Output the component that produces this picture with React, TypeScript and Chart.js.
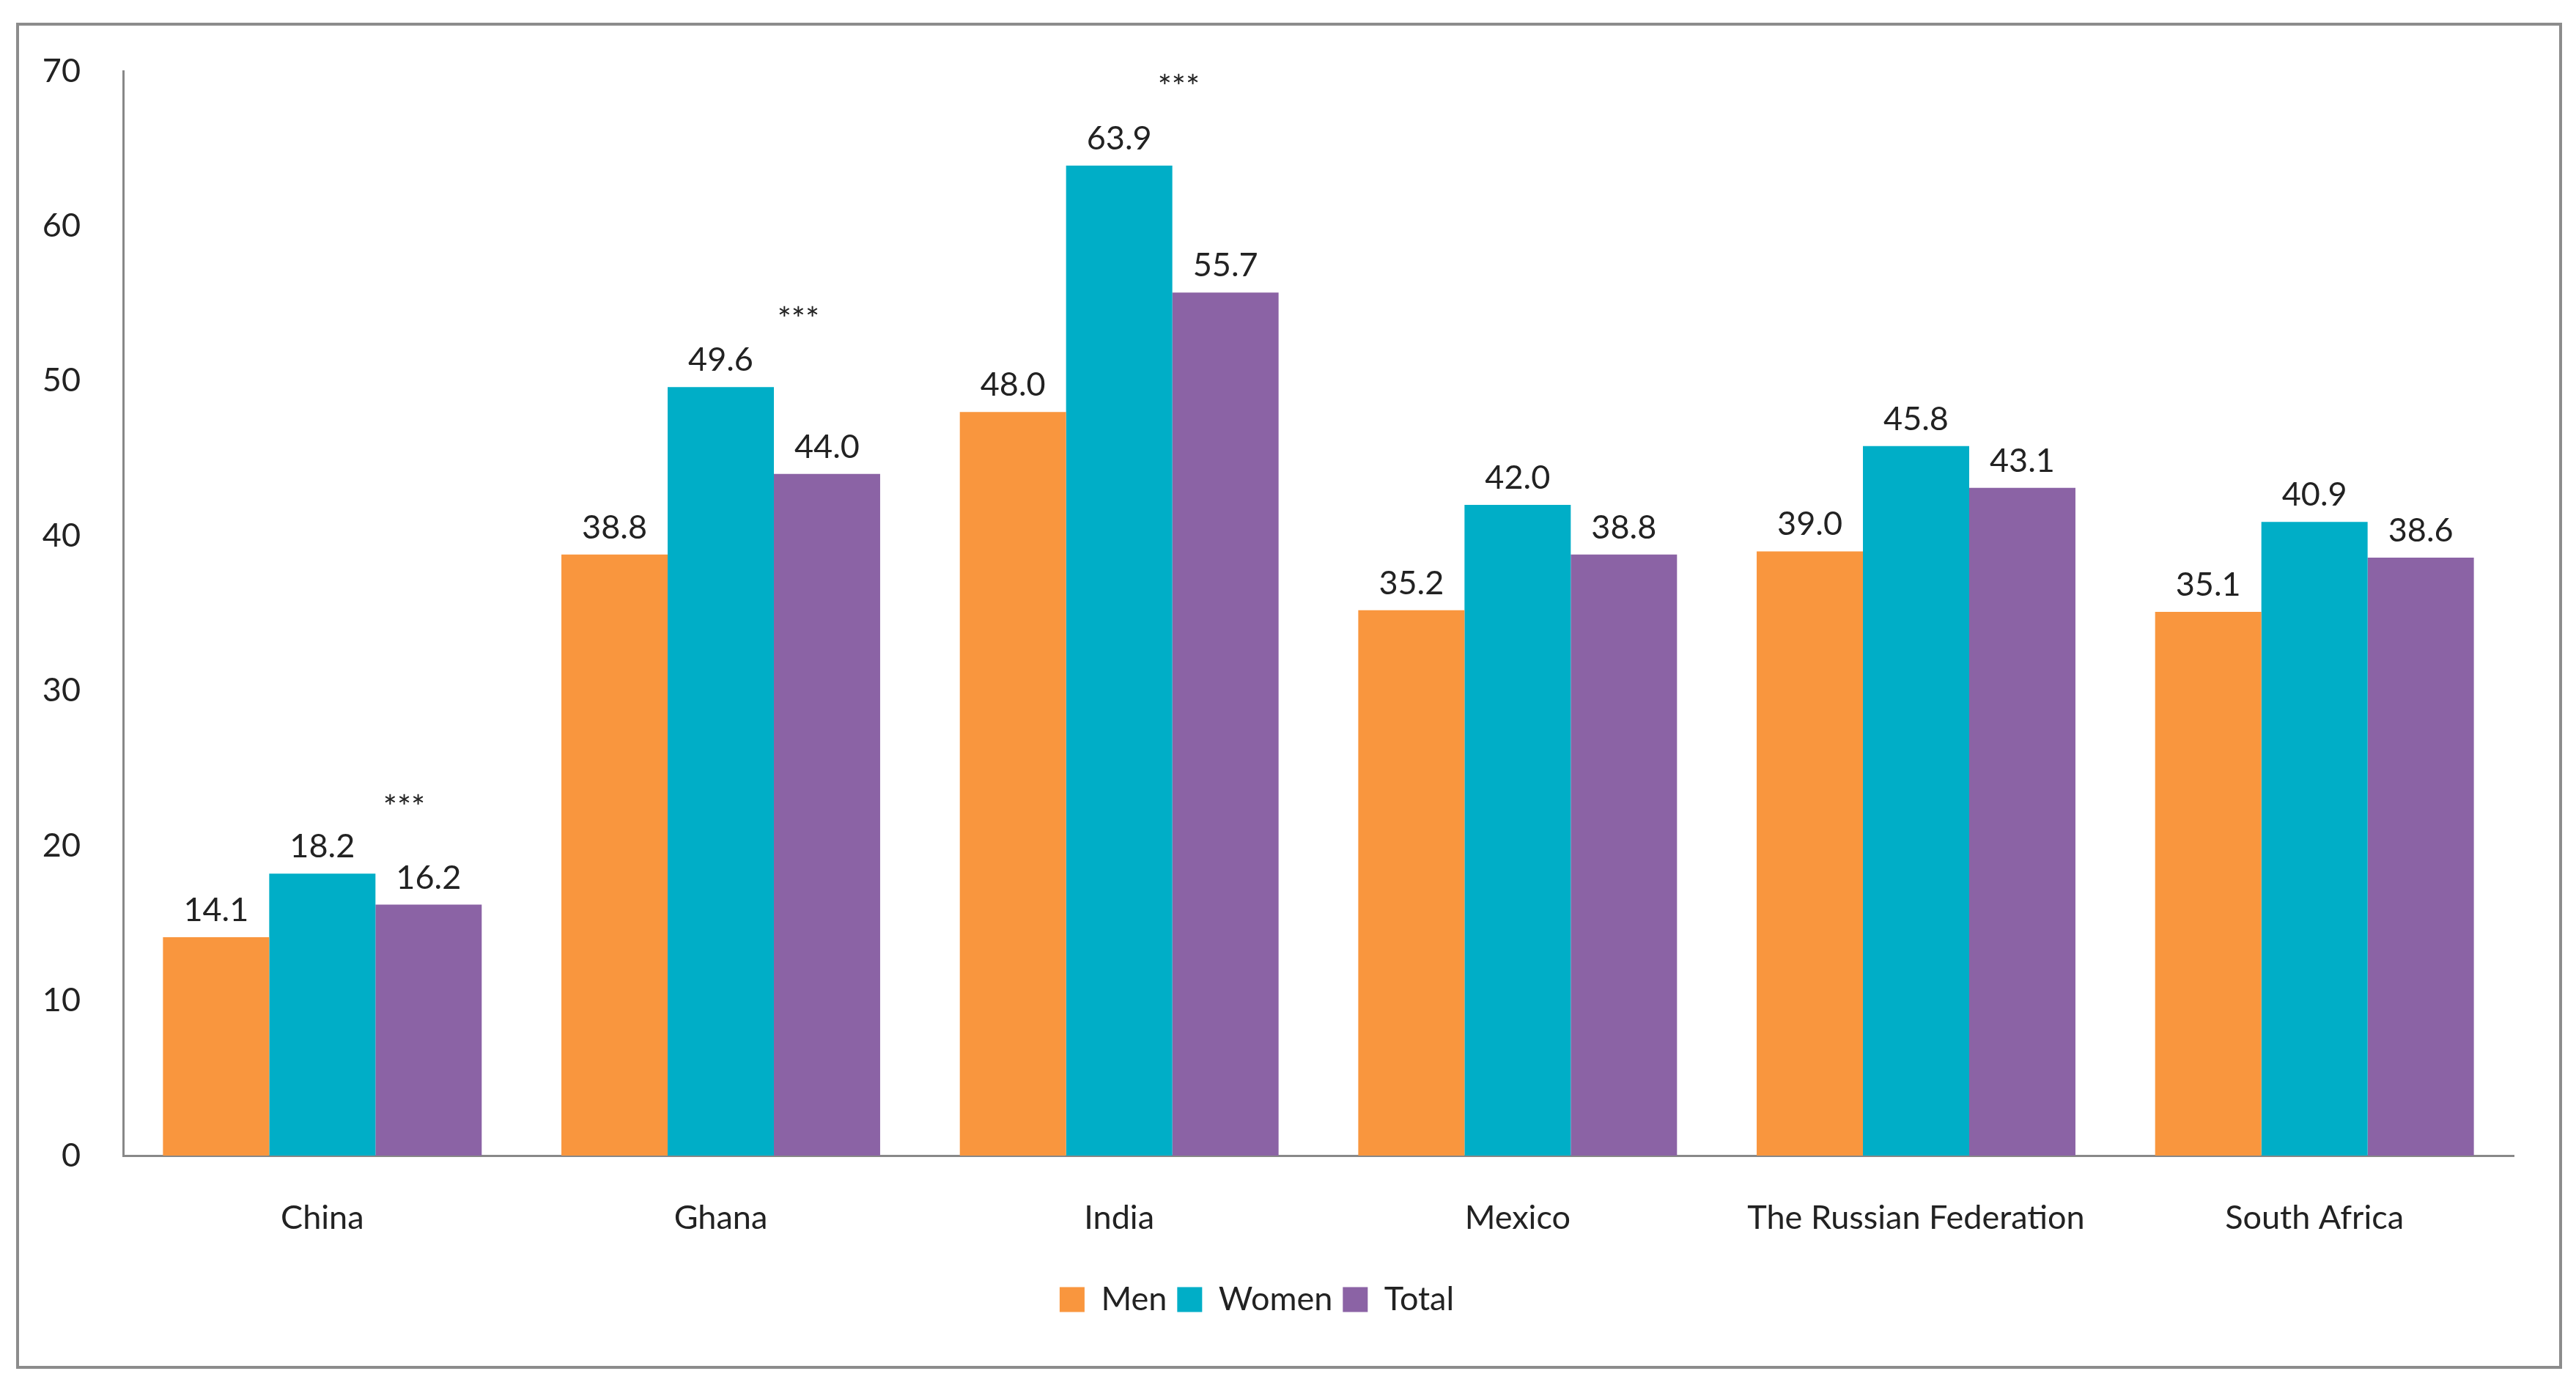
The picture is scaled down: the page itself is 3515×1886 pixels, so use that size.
import React, { useEffect, useRef } from "react";
import { Chart, registerables } from "chart.js";
Chart.register(...registerables);

const categories = ["China", "Ghana", "India", "Mexico", "The Russian Federation", "South Africa"];
const men = [14.1, 38.8, 48.0, 35.2, 39.0, 35.1];
const women = [18.2, 49.6, 63.9, 42.0, 45.8, 40.9];
const total = [16.2, 44.0, 55.7, 38.8, 43.1, 38.6];
// significance markers: category index, dataset index, value height, offset in bar widths
const stars = [
  { cat: 0, ds: 2, y: 22.9, dx: -0.23 },
  { cat: 1, ds: 2, y: 54.4, dx: -0.27 },
  { cat: 2, ds: 1, y: 69.4, dx: 0.56 },
];

const FONT = "Lato, 'Open Sans', sans-serif";
const FS = 45;

export default function App() {
  const ref = useRef<HTMLCanvasElement>(null);
  useEffect(() => {
    const labelsPlugin = {
      id: "vals",
      afterDatasetsDraw(chart: any) {
        const ctx = chart.ctx;
        ctx.save();
        ctx.fillStyle = "#222";
        ctx.font = `${FS}px ${FONT}`;
        ctx.textAlign = "center";
        ctx.textBaseline = "bottom";
        chart.data.datasets.forEach((ds: any, i: number) => {
          chart.getDatasetMeta(i).data.forEach((bar: any, j: number) => {
            ctx.fillText(ds.data[j].toFixed(1), bar.x, bar.y - 14);
          });
        });
        const ys = chart.scales.y;
        stars.forEach((s) => {
          const bar = chart.getDatasetMeta(s.ds).data[s.cat];
          ctx.textBaseline = "middle";
          ctx.fillText("***", bar.x + s.dx * bar.width, ys.getPixelForValue(s.y) + 10);
        });
        ctx.restore();
      },
    };
    const c = new Chart(ref.current!, {
      type: "bar",
      data: {
        labels: categories,
        datasets: [
          { label: "Men", data: men, backgroundColor: "#F9963E" },
          { label: "Women", data: women, backgroundColor: "#00AEC7" },
          { label: "Total", data: total, backgroundColor: "#8B63A5" },
        ],
      },
      options: {
        animation: false,
        responsive: false,
        maintainAspectRatio: false,
        layout: { padding: { top: 97, right: 85, bottom: 80, left: 0 } },
        datasets: { bar: { categoryPercentage: 0.8, barPercentage: 1 } },
        plugins: {
          tooltip: { enabled: false },
          legend: {
            position: "bottom",
            labels: { font: { size: FS, family: FONT }, color: "#222", boxWidth: 34, boxHeight: 34, padding: 14 },
          },
        },
        scales: {
          x: {
            grid: { display: false },
            border: { color: "#888", width: 3 },
            ticks: { font: { size: FS, family: FONT }, color: "#222", padding: 50, maxRotation: 0 },
            afterFit: (s: any) => { s.height = 160; },
          },
          y: {
            min: 0, max: 70,
            grid: { display: false },
            border: { color: "#888", width: 3 },
            ticks: { stepSize: 10, font: { size: FS, family: FONT }, color: "#222", padding: 50 },
            afterFit: (s: any) => { s.width = 168; },
          },
        },
      },
      plugins: [labelsPlugin],
    } as any);
    return () => c.destroy();
  }, []);
  return (
    <div style={{ position: "absolute", left: 0, top: 0, width: 3515, height: 1886, background: "#fff" }}>
      <div style={{ position: "absolute", left: 22, top: 31, width: 3466, height: 1829, border: "4px solid #8c8c8c" }} />
      <canvas ref={ref} width={3515} height={1886} style={{ position: "absolute", left: 0, top: 0 }} />
    </div>
  );
}
